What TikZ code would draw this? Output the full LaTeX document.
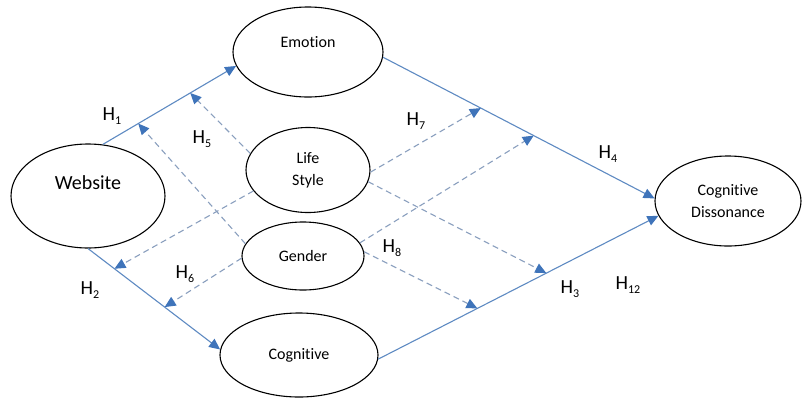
\documentclass[tikz,border=0pt]{standalone}
\usepackage{fontspec}
\setmainfont{Carlito}[Ligatures=NoCommon]
\usetikzlibrary{arrows.meta,shapes.geometric}
\definecolor{lblue}{HTML}{5E8AC2}
\definecolor{ablue}{HTML}{3F74BA}
\definecolor{dblue}{HTML}{8A9FBE}
\newcommand\hsub[1]{H\raisebox{-0.45ex}{\fontsize{12}{12}\selectfont #1}}
\begin{document}
\begin{tikzpicture}[x=1pt,y=-1pt,
  ell/.style={ellipse,draw=black,line width=1.1pt,inner sep=0pt,align=center,font=\fontsize{16}{22}\selectfont},
  txt/.style={inner sep=0pt,align=center,font=\fontsize{16}{22}\selectfont},
  sol/.style={draw=lblue,line width=1.1pt,-{Triangle[length=11pt,width=10pt,color=ablue]}},
  dsh/.style={draw=dblue,line width=1.1pt,dash pattern=on 6pt off 4pt,-{Triangle[length=11pt,width=10pt,color=ablue]}},
  lab/.style={inner sep=0pt,font=\fontsize{20}{20}\selectfont}]
\useasboundingbox (0,0) rectangle (804,397);
% ellipses
\node[ell,minimum width=154pt,minimum height=104pt] (web) at (88,196) {};
\node[txt,font=\fontsize{20}{20}\selectfont] (webt) at (88,183) {Website};
\node[ell,minimum width=150pt,minimum height=90pt] (emo) at (308,52) {};
\node[txt] (emot) at (308,42) {Emotion};
\node[ell,minimum width=124pt,minimum height=85pt] (life) at (308,170) {Life\\Style};
\node[ell,minimum width=122pt,minimum height=68pt] (gen) at (303,256) {Gender};
\node[ell,minimum width=158pt,minimum height=84pt] (cog) at (299,355) {Cognitive};
\node[ell,minimum width=146pt,minimum height=90pt] (cd) at (728,201) {Cognitive\\Dissonance};
% solid paths
\draw[sol] (web.74) -- (emo.191) coordinate[pos=0.266] (a2) coordinate[pos=0.656] (a1);
\draw[sol] (web.270) -- (cog.176) coordinate[pos=0.2] (b1) coordinate[pos=0.58] (b2);
\draw[sol] (emo.-4) -- (cd.178) coordinate[pos=0.36] (c1) coordinate[pos=0.555] (c2);
\draw[sol] (cog.-3) -- (cd.192) coordinate[pos=0.354] (e2) coordinate[pos=0.6] (e1);
% dashed paths
\draw[dsh] (life.164) -- (a1);
\draw[dsh] (gen.168) -- (a2);
\draw[dsh] (life.201) -- (b1);
\draw[dsh] (gen.182) -- (b2);
\draw[dsh] (life.-2) -- (c1);
\draw[dsh] (gen.13) -- (c2);
\draw[dsh] (life.-11) -- (e1);
\draw[dsh] (gen.4) -- (e2);
% labels
\node[lab] (h1) at (112,116) {\hsub{1}};
\node[lab] (h5) at (202,139) {\hsub{5}};
\node[lab] (h6) at (185,274) {\hsub{6}};
\node[lab] (h2) at (90,290) {\hsub{2}};
\node[lab] (h7) at (416,121) {\hsub{7}};
\node[lab] (h8) at (392,248) {\hsub{8}};
\node[lab] (h4) at (608,154) {\hsub{4}};
\node[lab] (h3) at (570,289) {\hsub{3}};
\node[lab] (h12) at (628,285) {\hsub{12}};
\end{tikzpicture}
\end{document}
